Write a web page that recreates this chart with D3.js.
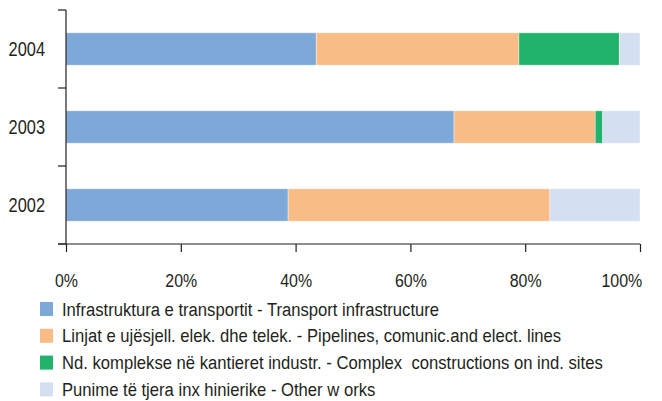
<!DOCTYPE html>
<html>
<head>
<meta charset="utf-8">
<script src="https://d3js.org/d3.v7.min.js"></script>
<style>
  body { margin: 0; background: #fff; }
  text { font-family: "Liberation Sans", Arial, sans-serif; fill: #231f20; white-space: pre; }
</style>
</head>
<body>
<script>
// years, top to bottom
const years = ["2004", "2003", "2002"];
const seriesNames = [
  "Infrastruktura e transportit - Transport infrastructure",
  "Linjat e ujësjell. elek. dhe telek. - Pipelines, comunic.and elect. lines",
  "Nd. komplekse në kantieret industr. - Complex  constructions on ind. sites",
  "Punime të tjera inx hinierike - Other w orks"
];
const transport = [43.6, 67.6, 38.7];
const pipelines = [35.3, 24.6, 45.6];
const complexSites = [17.5, 1.3, 0];
const otherWorks = [3.6, 6.5, 15.7];
const colors = ["#7ea8d8", "#f9bc87", "#21b26b", "#d4dff1"];
const xTicks = [0, 20, 40, 60, 80, 100];

const width = 662, height = 401;
const svg = d3.select("body").append("svg")
  .attr("width", width).attr("height", height);

const x = d3.scaleLinear().domain([0, 100]).range([66, 640]);
const y = d3.scaleBand().domain(years).range([10, 244])
  .paddingInner(0.585).paddingOuter(0.2925);

const rows = years.map((yr, i) => ({ year: yr, transport: transport[i], pipelines: pipelines[i], complexSites: complexSites[i], otherWorks: otherWorks[i] }));
const keys = ["transport", "pipelines", "complexSites", "otherWorks"];
const stacked = d3.stack().keys(keys)(rows);

svg.append("g").selectAll("g")
  .data(stacked).join("g")
  .attr("fill", (d, i) => colors[i])
  .selectAll("rect")
  .data(d => d.filter(s => s[1] - s[0] > 0))
  .join("rect")
  .attr("x", d => x(d[0]))
  .attr("y", d => y(d.data.year))
  .attr("width", d => x(d[1]) - x(d[0]))
  .attr("height", y.bandwidth())
  .attr("stroke", "#ffffff")
  .attr("stroke-opacity", 0.5)
  .attr("stroke-width", 0.8);

// y axis: line + ticks at category boundaries
const step = y.step();
const bounds = years.map(yr => y(yr) - step * y.paddingInner() / 2).concat([y(years[years.length - 1]) + y.bandwidth() + step * y.paddingInner() / 2]);
const yAxis = svg.append("g");
yAxis.append("line")
  .attr("x1", x(0)).attr("x2", x(0))
  .attr("y1", bounds[0]).attr("y2", bounds[bounds.length - 1])
  .attr("stroke", "#231f20").attr("stroke-width", 1.2);
yAxis.selectAll(".tk").data(bounds).join("line")
  .attr("x1", x(0) - 8).attr("x2", x(0))
  .attr("y1", d => d).attr("y2", d => d)
  .attr("stroke", "#231f20").attr("stroke-width", 1.2);
yAxis.selectAll("g.lbl").data(years).join("g")
  .attr("class", "lbl")
  .attr("transform", d => `translate(45,${y(d) + y.bandwidth() / 2}) scale(0.82,1)`)
  .append("text")
  .attr("dy", "0.36em")
  .attr("text-anchor", "end")
  .attr("font-size", 20)
  .text(d => d);

// x axis
const xAxis = svg.append("g")
  .attr("transform", `translate(0,${bounds[bounds.length - 1]})`)
  .call(d3.axisBottom(x).tickValues(xTicks).tickFormat(d => d + "%").tickSize(8).tickPadding(22).tickSizeOuter(0));
xAxis.select(".domain").attr("stroke", "#231f20").attr("stroke-width", 1.2)
  .attr("d", `M${x(0) - 8},0H${x(100)}`);
xAxis.selectAll(".tick line").attr("stroke", "#231f20").attr("stroke-width", 1.2);
xAxis.selectAll(".tick text")
  .attr("font-size", 19).attr("font-family", null).attr("fill", "#231f20")
  .attr("transform", "scale(0.84,1)")
  .filter(d => d === 100)
  .attr("text-anchor", "end").attr("x", 2);

// legend
const legend = svg.append("g").selectAll("g")
  .data(seriesNames).join("g")
  .attr("transform", (d, i) => `translate(40,${302 + i * 26.8})`);
legend.append("rect")
  .attr("width", 13).attr("height", 14)
  .attr("fill", (d, i) => colors[i]);
legend.append("g")
  .attr("transform", "translate(22,7) scale(0.9,1)")
  .append("text")
  .attr("dy", "0.36em")
  .attr("font-size", 18.5)
  .text(d => d);
</script>
</body>
</html>
